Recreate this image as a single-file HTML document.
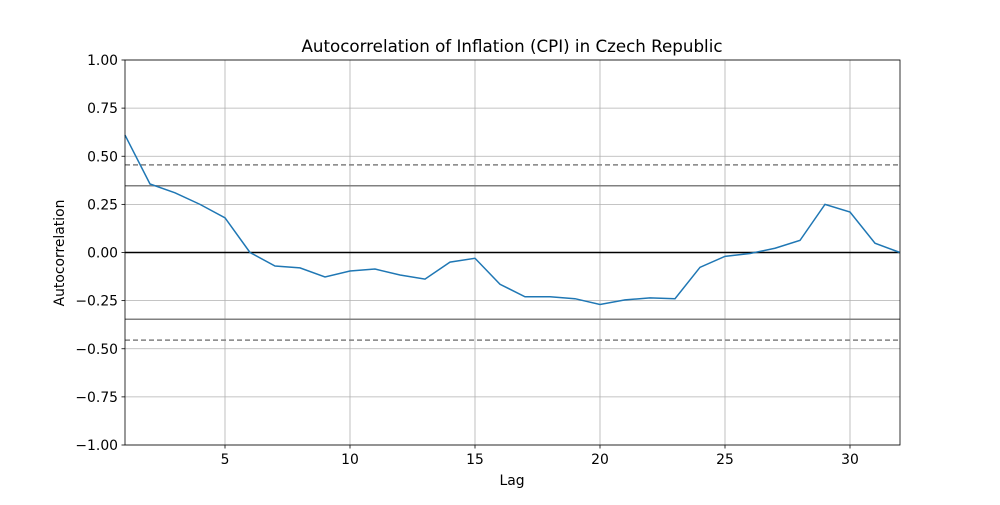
<!DOCTYPE html>
<html><head><meta charset="utf-8"><style>body{margin:0;background:#fff}svg{font-family:"DejaVu Sans","Liberation Sans",sans-serif}</style></head>
<body>
<svg id="c" width="1000" height="500"></svg>
<script>
const lags=[1,2,3,4,5,6,7,8,9,10,11,12,13,14,15,16,17,18,19,20,21,22,23,24,25,26,27,28,29,30,31,32];
const acf=[0.61,0.356,0.31,0.25,0.18,0.0,-0.07,-0.08,-0.127,-0.096,-0.086,-0.117,-0.138,-0.05,-0.03,-0.165,-0.23,-0.23,-0.24,-0.27,-0.246,-0.236,-0.24,-0.077,-0.02,-0.005,0.022,0.063,0.25,0.21,0.048,0.0];
const xTicks=[5,10,15,20,25,30];
const yTicks=[-1,-0.75,-0.5,-0.25,0,0.25,0.5,0.75,1];
const yTickLabels=["−1.00","−0.75","−0.50","−0.25","0.00","0.25","0.50","0.75","1.00"];
const nObs=32;
const L=125,R=900,T=60,B=445;
const X=v=>L+(v-1)/(31)*(R-L);
const Y=v=>T+(1-v)/2*(B-T);
const s=document.getElementById('c');const NS='http://www.w3.org/2000/svg';
function el(t,a,p){const e=document.createElementNS(NS,t);for(const k in a)e.setAttribute(k,a[k]);(p||s).appendChild(e);return e;}
let g;
xTicks.forEach(v=>{g=el('line',{x1:X(v),x2:X(v),y1:T,y2:B,stroke:'#b0b0b0','stroke-width':0.8});
 el('line',{x1:X(v),x2:X(v),y1:B,y2:B+3.5,stroke:'#000','stroke-width':0.8});
 g=el('text',{x:X(v),y:B+19,'text-anchor':'middle','font-size':13.9});g.textContent=v;});
yTicks.forEach((v,i)=>{g=el('line',{x1:L,x2:R,y1:Y(v),y2:Y(v),stroke:'#b0b0b0','stroke-width':0.8});
 el('line',{x1:L-3.5,x2:L,y1:Y(v),y2:Y(v),stroke:'#000','stroke-width':0.8});
 g=el('text',{x:L-7,y:Y(v)+5,'text-anchor':'end','font-size':13.9});g.textContent=yTickLabels[i];});
const z95=1.959963985/Math.sqrt(nObs),z99=2.5758293035/Math.sqrt(nObs);
[[z95,''],[-z95,''],[z99,'5,3'],[-z99,'5,3']].forEach(([v,d])=>{g=el('line',{x1:L,x2:R,y1:Y(v),y2:Y(v),stroke:'#808080','stroke-width':1.5,'stroke-dasharray':d});});
g=el('line',{x1:L,x2:R,y1:Y(0),y2:Y(0),stroke:'#000','stroke-width':1.5});
g=el('polyline',{points:lags.map((l,i)=>X(l)+','+Y(acf[i])).join(' '),fill:'none',stroke:'#1f77b4','stroke-width':1.5});
g=el('rect',{x:L,y:T,width:R-L,height:B-T,fill:'none',stroke:'#000','stroke-width':0.8});
g=el('text',{x:512,y:52,'text-anchor':'middle','font-size':16.7});g.textContent='Autocorrelation of Inflation (CPI) in Czech Republic';
g=el('text',{x:512,y:485,'text-anchor':'middle','font-size':13.9});g.textContent='Lag';
g=el('text',{x:64,y:253,'text-anchor':'middle','font-size':13.9,transform:'rotate(-90 64 253)'});g.textContent='Autocorrelation';
</script>
</body></html>
